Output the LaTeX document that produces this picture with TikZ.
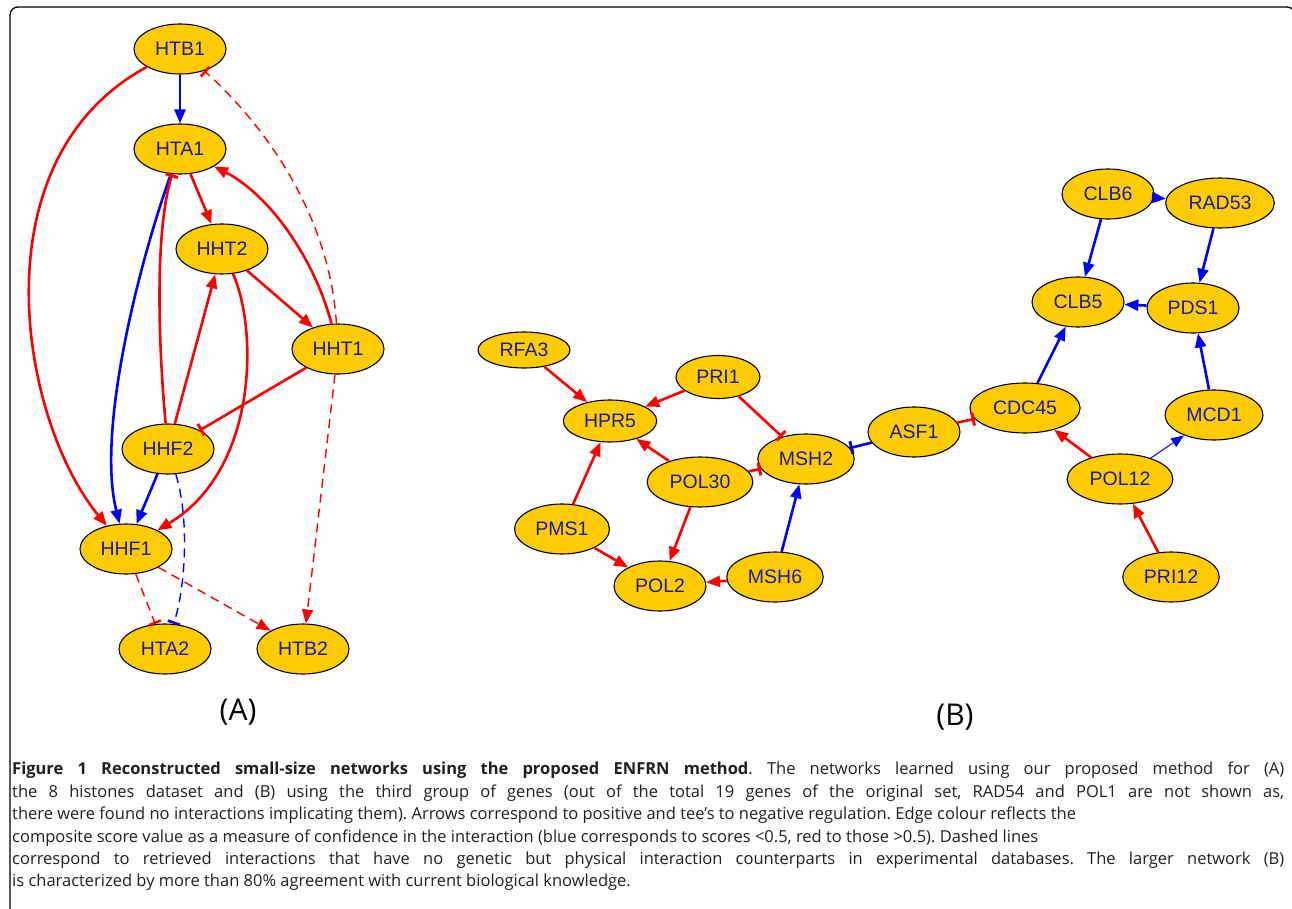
\documentclass[tikz,border=0pt]{standalone}
\usepackage{fontspec}
\newfontfamily\genefont{Liberation Sans}
\newfontfamily\capfont{Open Sans}
\usetikzlibrary{shapes.geometric,arrows.meta}
\definecolor{genefill}{HTML}{FFCC00}
\definecolor{genetext}{RGB}{28,28,160}
\definecolor{captext}{RGB}{35,31,32}
\frenchspacing

\begin{document}
\begin{tikzpicture}
  [x=1pt,y=-1pt,
   gene/.style={ellipse,draw=black,line width=1.1pt,fill=genefill,text=genetext,
     font=\genefont\fontsize{19.5}{20}\selectfont,inner xsep=7pt,inner ysep=0pt,
     minimum width=92pt,minimum height=50pt},
   activ/.style={line width=2.6pt,-{Triangle[length=14pt,width=11pt]}},
   inhib/.style={line width=2.6pt,-{Bar[width=13pt,line width=3pt]}},
   phys/.style={line width=1.4pt,dash pattern=on 9pt off 6pt},
   weakactiv/.style={line width=1pt,-{Triangle[length=13pt,width=10pt]}}]
  \useasboundingbox (0,0) rectangle (1292,909);
  \draw[line width=1.3pt,rounded corners=8pt] (10,7) rectangle (1295,921);

  % (A) histones
  \node[gene] (htb1) at (180,49) {HTB1};
  \node[gene] (hta1) at (180,149) {HTA1};
  \node[gene] (hht2) at (222,249) {HHT2};
  \node[gene] (hht1) at (338,349) {HHT1};
  \node[gene] (hhf2) at (168,449) {HHF2};
  \node[gene] (hhf1) at (126,549) {HHF1};
  \node[gene] (hta2) at (165,649) {HTA2};
  \node[gene] (htb2) at (303,649) {HTB2};

  % (B) third group
  \node[gene,minimum height=36pt] (rfa3) at (524,350) {RFA3};
  \node[gene,minimum height=43pt,minimum width=84pt] (pri1) at (718,377) {PRI1};
  \node[gene,minimum height=42pt] (hpr5) at (610,421) {HPR5};
  \node[gene] (msh2) at (806,459) {MSH2};
  \node[gene] (pol30) at (700,482) {POL30};
  \node[gene] (pms1) at (562,529) {PMS1};
  \node[gene] (pol2) at (660,586) {POL2};
  \node[gene] (msh6) at (775,577) {MSH6};
  \node[gene] (asf1) at (914,432) {ASF1};
  \node[gene] (cdc45) at (1025,408) {CDC45};
  \node[gene] (clb6) at (1108,194) {CLB6};
  \node[gene] (rad53) at (1220,203) {RAD53};
  \node[gene] (clb5) at (1078,302) {CLB5};
  \node[gene] (pds1) at (1193,308) {PDS1};
  \node[gene] (mcd1) at (1214,415) {MCD1};
  \node[gene] (pol12) at (1120,479) {POL12};
  \node[gene] (pri12) at (1171,577) {PRI12};

  \foreach \from/\to in {hta1/hht2,hhf2/hht2,hht2/hht1,rfa3/hpr5,pri1/hpr5,pol30/hpr5,
      pms1/hpr5,pol30/pol2,pms1/pol2,msh6/pol2,pol12/cdc45,pri12/pol12}
    \draw[red,activ] (\from) -- (\to);
  \foreach \from/\to in {hht1/hhf2,pri1/msh2,pol30/msh2,asf1/cdc45}
    \draw[red,inhib] (\from) -- (\to);
  \foreach \from/\to in {htb1/hta1,hhf2/hhf1,msh6/msh2,cdc45/clb5,clb6/clb5,clb6/rad53,
      rad53/pds1,pds1/clb5,mcd1/pds1}
    \draw[blue,activ] (\from) -- (\to);
  \draw[blue,inhib] (asf1) -- (msh2);
  \draw[blue,weakactiv] (pol12) -- (mcd1);
  \foreach \from/\to in {hhf1/htb2,hht1/htb2}
    \draw[red,phys,-{Triangle[length=14pt,width=11pt]}] (\from) -- (\to);
  \draw[red,phys,-{Bar[width=13pt,line width=2.5pt]}] (hhf1) -- (hta2);

  % curved ones
  \draw[red,activ] (htb1) .. controls (-25,160) and (20,420) .. (hhf1);
  \draw[red,activ] (hht1) .. controls (315,260) and (270,195) .. (hta1);
  \draw[red,activ] (hht2) .. controls (258,330) and (258,470) .. (hhf1);
  \draw[blue,activ] (hta1) .. controls (140,260) and (96,430) .. (hhf1);
  \draw[red,inhib] (hhf2) .. controls (158,340) and (155,230) .. (hta1);
  \draw[red,phys,-{Bar[width=13pt,line width=2.5pt]}] (hht1) .. controls (330,220) and (270,130) .. (htb1);
  \draw[blue,phys,-{Bar[width=13pt,line width=2.5pt]}] (hhf2) .. controls (190,520) and (185,590) .. (hta2);

  \node[font=\capfont\fontsize{30}{36}\selectfont] (laba) at (238,712) {(A)};
  \node[font=\capfont\fontsize{30}{36}\selectfont] (labb) at (955,717) {(B)};

  \node[anchor=north west,inner sep=0pt,text width=1272pt,align=justify,text=captext,
    font=\capfont\fontsize{16.5}{22.4}\selectfont] (caption) at (12,762)
    {\textbf{Figure 1 Reconstructed small-size networks using the proposed ENFRN method}. The networks learned using our proposed method for (A)\linebreak
     the 8 histones dataset and (B) using the third group of genes (out of the total 19 genes of the original set, RAD54 and POL1 are not shown as,\linebreak
     there were found no interactions implicating them). Arrows correspond to positive and tee’s to negative regulation. Edge colour reflects the\newline
     composite score value as a measure of confidence in the interaction (blue corresponds to scores <0.5, red to those >0.5). Dashed lines\newline
     correspond to retrieved interactions that have no genetic but physical interaction counterparts in experimental databases. The larger network (B)\linebreak
     is characterized by more than 80\% agreement with current biological knowledge.};
\end{tikzpicture}
\end{document}
